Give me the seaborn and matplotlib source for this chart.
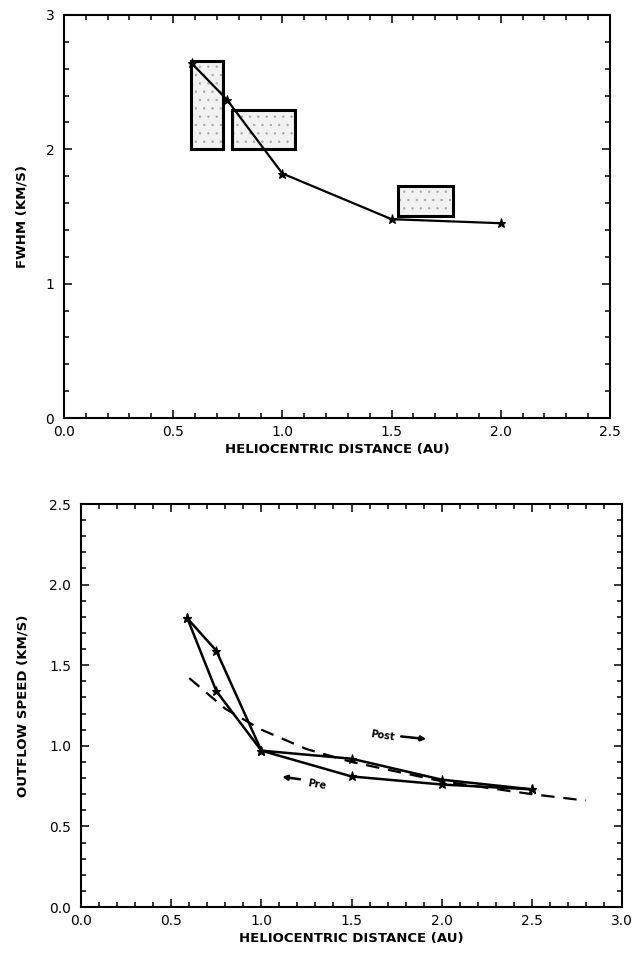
import matplotlib
matplotlib.use("Agg")
import matplotlib.pyplot as plt
from matplotlib.patches import Rectangle
from matplotlib.ticker import MultipleLocator
import pandas as pd
import seaborn as sns

# FWHM of the line profile versus heliocentric distance
fwhm_r = [0.585, 0.746, 1.0, 1.50, 2.0]
fwhm_v = [2.64, 2.37, 1.82, 1.48, 1.45]

# Observed FWHM ranges (r_min, r_max, v_min, v_max)
box_r0 = [0.58, 0.77, 1.53]
box_r1 = [0.73, 1.06, 1.78]
box_v0 = [2.00, 2.00, 1.50]
box_v1 = [2.66, 2.29, 1.73]

# Outflow speed, post- and pre-perihelion branches
post_r = [0.59, 0.75, 1.0, 1.5, 2.0, 2.5]
post_v = [1.79, 1.59, 0.97, 0.92, 0.79, 0.73]
pre_r = [0.59, 0.75, 1.0, 1.5, 2.0, 2.5]
pre_v = [1.79, 1.34, 0.97, 0.81, 0.76, 0.73]

# Reference speed law (dashed)
law_r = [0.6, 0.8, 1.0, 1.25, 1.5, 2.0, 2.5, 2.8]
law_v = [1.42, 1.23, 1.10, 0.98, 0.90, 0.78, 0.70, 0.66]

sns.set_theme(style="ticks")
plt.rcParams["font.family"] = ["DejaVu Sans"]
plt.rcParams["hatch.linewidth"] = 0.5
plt.rcParams["text.color"] = "black"
plt.rcParams["axes.labelcolor"] = "black"
plt.rcParams["xtick.color"] = "black"
plt.rcParams["ytick.color"] = "black"

fig = plt.figure(figsize=(6.36, 9.65), dpi=100)
ax1 = fig.add_axes([0.1006, 0.5668, 0.8584, 0.4177])
ax2 = fig.add_axes([0.1274, 0.0601, 0.8506, 0.4176])

label_kw = dict(fontsize=9.5, fontweight="bold", color="black")
marker_kw = dict(marker="*", markersize=6.5, markeredgewidth=0.8,
                 markeredgecolor="black", markerfacecolor="black")


def style_axes(ax, xmajor, xminor, ymajor, yminor):
    ax.xaxis.set_major_locator(MultipleLocator(xmajor))
    ax.xaxis.set_minor_locator(MultipleLocator(xminor))
    ax.yaxis.set_major_locator(MultipleLocator(ymajor))
    ax.yaxis.set_minor_locator(MultipleLocator(yminor))
    ax.tick_params(which="both", direction="in", top=True, right=True,
                   color="black", labelcolor="black", width=1.1,
                   labelsize=10)
    ax.tick_params(axis="x", which="major", pad=5)
    ax.tick_params(axis="y", which="major", pad=7)
    ax.tick_params(which="major", length=6)
    ax.tick_params(which="minor", length=3.5)
    for s in ax.spines.values():
        s.set_linewidth(1.5)
        s.set_color("black")


# ---- top panel ----
for r0, r1, v0, v1 in zip(box_r0, box_r1, box_v0, box_v1):
    ax1.add_patch(Rectangle((r0, v0), r1 - r0, v1 - v0, facecolor="#f2f2f2",
                            edgecolor="#a8a8a8", hatch="..", linewidth=0, zorder=1))
    ax1.add_patch(Rectangle((r0, v0), r1 - r0, v1 - v0, facecolor="none",
                            edgecolor="black", linewidth=2.2, zorder=2))

df1 = pd.DataFrame({"r": fwhm_r, "v": fwhm_v})
sns.lineplot(data=df1, x="r", y="v", ax=ax1, sort=False, color="black",
             linewidth=1.6, zorder=3, **marker_kw)
ax1.set_xlim(0, 2.5)
ax1.set_ylim(0, 3)
style_axes(ax1, 0.5, 0.1, 1, 0.2)
ax1.set_xticks([0, 0.5, 1.0, 1.5, 2.0, 2.5])
ax1.set_xticklabels(["0.0", "0.5", "1.0", "1.5", "2.0", "2.5"])
ax1.set_yticks([0, 1, 2, 3])
ax1.set_yticklabels(["0", "1", "2", "3"])
ax1.set_xlabel("HELIOCENTRIC DISTANCE (AU)", labelpad=3, **label_kw)
ax1.set_ylabel("FWHM (KM/S)", labelpad=12, **label_kw)

# ---- bottom panel ----
df_post = pd.DataFrame({"r": post_r, "v": post_v})
df_pre = pd.DataFrame({"r": pre_r, "v": pre_v})
df_law = pd.DataFrame({"r": law_r, "v": law_v})
sns.lineplot(data=df_law, x="r", y="v", ax=ax2, sort=False, color="black",
             linewidth=1.6, linestyle=(0, (6, 4)), zorder=2)
for d in (df_post, df_pre):
    sns.lineplot(data=d, x="r", y="v", ax=ax2, sort=False, color="black",
                 linewidth=1.8, zorder=3, **marker_kw)

ax2.text(1.67, 1.06, "Post", fontsize=7, fontweight="bold", rotation=-8,
         ha="center", va="center")
ax2.annotate("", xy=(1.93, 1.04), xytext=(1.76, 1.06),
             arrowprops=dict(arrowstyle="-|>", color="black", lw=1.8,
                             mutation_scale=7))
ax2.text(1.31, 0.76, "Pre", fontsize=7, fontweight="bold", rotation=-10,
         ha="center", va="center")
ax2.annotate("", xy=(1.10, 0.81), xytext=(1.23, 0.79),
             arrowprops=dict(arrowstyle="-|>", color="black", lw=1.8,
                             mutation_scale=7))

ax2.set_xlim(0, 3.0)
ax2.set_ylim(0, 2.5)
style_axes(ax2, 0.5, 0.1, 0.5, 0.1)
ax2.set_xticks([0, 0.5, 1.0, 1.5, 2.0, 2.5, 3.0])
ax2.set_xticklabels(["0.0", "0.5", "1.0", "1.5", "2.0", "2.5", "3.0"])
ax2.set_yticks([0, 0.5, 1.0, 1.5, 2.0, 2.5])
ax2.set_yticklabels(["0.0", "0.5", "1.0", "1.5", "2.0", "2.5"])
ax2.set_xlabel("HELIOCENTRIC DISTANCE (AU)", labelpad=3, **label_kw)
ax2.set_ylabel("OUTFLOW SPEED (KM/S)", labelpad=14, **label_kw)

fig.savefig("out.png", dpi=100)
